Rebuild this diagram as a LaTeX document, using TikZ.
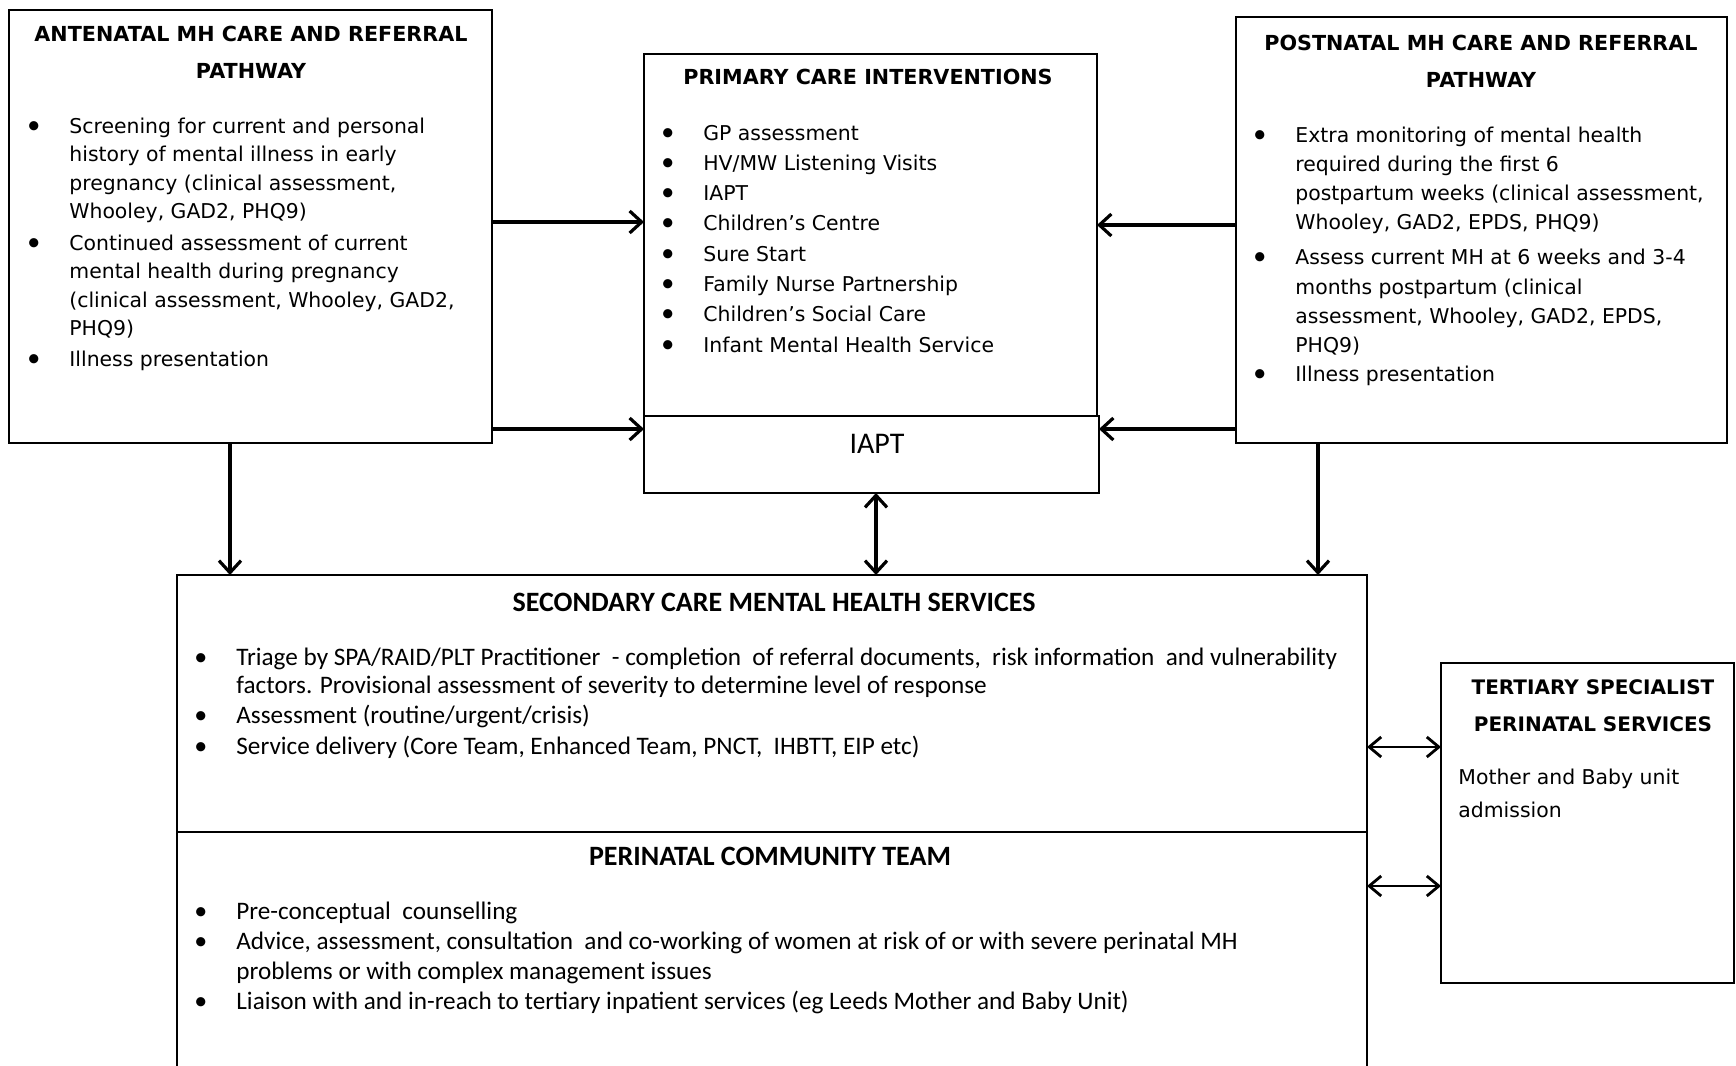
\documentclass[tikz,border=0pt]{standalone}
\usepackage{fontspec}
\setmainfont{DejaVu Sans}
\newfontfamily\carl{Carlito}
\usetikzlibrary{arrows.meta}
\newcommand\bul{\makebox[21pt][l]{{\carl\fontsize{13}{13}\selectfont •}}}
\newcommand\ind{\hspace*{21pt}}
\newcommand\tl[1]{\begin{tabular}[t]{@{}l@{}}#1\end{tabular}}
\newcommand\tc[1]{\begin{tabular}[t]{@{}c@{}}#1\end{tabular}}
\begin{document}
\begin{tikzpicture}[x=0.5pt,y=-0.5pt,
  box/.style={draw, line width=1pt, rectangle, inner sep=0pt, outer sep=0pt},
  toptxt/.style={font=\fontsize{10.2}{14.25}\selectfont, anchor=base west, inner sep=0pt},
  hd/.style={font=\bfseries\fontsize{10.35}{18.5}\selectfont, anchor=base, inner sep=0pt},
  bottxt/.style={font=\carl\fontsize{12.6}{14.1}\selectfont, anchor=base west, inner sep=0pt},
  bhd/.style={font=\carl\bfseries\fontsize{14}{16}\selectfont, anchor=base, inner sep=0pt},
  arr/.style={-{Straight Barb[length=6pt,width=11pt]}, line width=1.6pt},
  darr/.style={{Straight Barb[length=6pt,width=11pt]}-{Straight Barb[length=6pt,width=11pt]}, line width=1.6pt},
  tarr/.style={{Straight Barb[length=6pt,width=10pt]}-{Straight Barb[length=6pt,width=10pt]}, line width=1.4pt}]
\useasboundingbox (0,0) rectangle (1736,1066);
\fill[white] (0,0) rectangle (1736,1066);
\clip (0,0) rectangle (1736,1066);

% boxes
\node[box, minimum width=241.5pt, minimum height=216.5pt] (ante) at (250.5,226.5) {};
\node[box, minimum width=226.5pt, minimum height=181pt] (prim) at (870.5,235) {};
\node[box, minimum width=227.5pt, minimum height=38.5pt] (iapt) at (871.5,454.5) {};
\node[box, minimum width=245.5pt, minimum height=213pt] (post) at (1481.5,230) {};
\node[box, minimum width=595pt, minimum height=128.5pt] (sec) at (772,703.5) {};
\node[box, minimum width=595pt, minimum height=129pt] (peri) at (772,961) {};
\node[box, minimum width=146.5pt, minimum height=160pt] (tert) at (1587.5,823) {};

% antenatal
\node[hd] (anteh) at (251,41) {\tc{ANTENATAL MH CARE AND REFERRAL\\PATHWAY}};
\node[toptxt] (antet) at (27,133) {\tl{\bul Screening for current and personal\\
\ind history of mental illness in early\\
\ind pregnancy (clinical assessment,\\
\ind Whooley, GAD2, PHQ9)\\[1.5pt]
\bul Continued assessment of current\\
\ind mental health during pregnancy\\
\ind (clinical assessment, Whooley, GAD2,\\
\ind PHQ9)\\[1.2pt]
\bul Illness presentation}};

% primary
\node[hd] (primh) at (868,84.5) {PRIMARY CARE INTERVENTIONS};
\node[toptxt, font=\fontsize{10.2}{15.15}\selectfont] (primt) at (661,140) {\tl{\bul GP assessment\\
\bul HV/MW Listening Visits\\
\bul IAPT\\
\bul Children’s Centre\\
\bul Sure Start\\
\bul Family Nurse Partnership\\
\bul Children’s Social Care\\
\bul Infant Mental Health Service}};
\node[font=\carl\fontsize{15}{16}\selectfont, anchor=base, inner sep=0pt] (iaptt) at (877,453) {IAPT};

% postnatal
\node[hd] (posth) at (1481,50.5) {\tc{POSTNATAL MH CARE AND REFERRAL\\PATHWAY}};
\node[toptxt, font=\fontsize{10.2}{14.6}\selectfont] (postt) at (1253,142) {\tl{\bul Extra monitoring of mental health\\
\ind required during the first 6\\
\ind postpartum weeks (clinical assessment,\\
\ind Whooley, GAD2, EPDS, PHQ9)\\[3pt]
\bul Assess current MH at 6 weeks and 3-4\\
\ind months postpartum (clinical\\
\ind assessment, Whooley, GAD2, EPDS,\\
\ind PHQ9)\\
\bul Illness presentation}};

% secondary
\node[bhd] (sech) at (774,611.5) {SECONDARY CARE MENTAL HEALTH SERVICES};
\node[bottxt] (sect) at (194,665) {\tl{\bul Triage by SPA/RAID/PLT Practitioner \ - completion \ of referral documents, \ risk information \ and vulnerability\\
\ind factors. Provisional assessment of severity to determine level of response\\[1.2pt]
\bul Assessment (routine/urgent/crisis)\\[1.2pt]
\bul Service delivery (Core Team, Enhanced Team, PNCT, \ IHBTT, EIP etc)}};

% perinatal
\node[bhd] (perih) at (770,865.5) {PERINATAL COMMUNITY TEAM};
\node[bottxt, font=\carl\fontsize{12.6}{15}\selectfont] (perit) at (194,919.5) {\tl{\bul Pre-conceptual \ counselling\\
\bul Advice, assessment, consultation \ and co-working of women at risk of or with severe perinatal MH\\
\ind problems or with complex management issues\\
\bul Liaison with and in-reach to tertiary inpatient services (eg Leeds Mother and Baby Unit)}};

% tertiary
\node[hd, font=\bfseries\fontsize{10}{18.5}\selectfont] (terth) at (1593,694) {\tc{TERTIARY SPECIALIST\\PERINATAL SERVICES}};
\node[toptxt, font=\fontsize{10.2}{16.6}\selectfont] (tertt) at (1458,784) {\tl{Mother and Baby unit\\admission}};

% helper coordinates
\coordinate (ya) at (0,222);
\coordinate (yb) at (0,429);
\coordinate (yc) at (0,225);
\coordinate (yd) at (0,747);
\coordinate (ye) at (0,886);
\coordinate (xa) at (230,0);
\coordinate (xb) at (1318,0);
\coordinate (xc) at (876,0);

% connectors
\draw[arr] (ante.east |- ya) -- (prim.west |- ya);
\draw[arr] (ante.east |- yb) -- (iapt.west |- yb);
\draw[arr] (post.west |- yc) -- (prim.east |- yc);
\draw[arr] (post.west |- yb) -- (iapt.east |- yb);
\draw[arr] (ante.south -| xa) -- (sec.north -| xa);
\draw[arr] (post.south -| xb) -- (sec.north -| xb);
\draw[darr] (iapt.south -| xc) -- (sec.north -| xc);
\draw[tarr] (sec.east |- yd) -- (tert.west |- yd);
\draw[tarr] (peri.east |- ye) -- (tert.west |- ye);
\end{tikzpicture}
\end{document}
